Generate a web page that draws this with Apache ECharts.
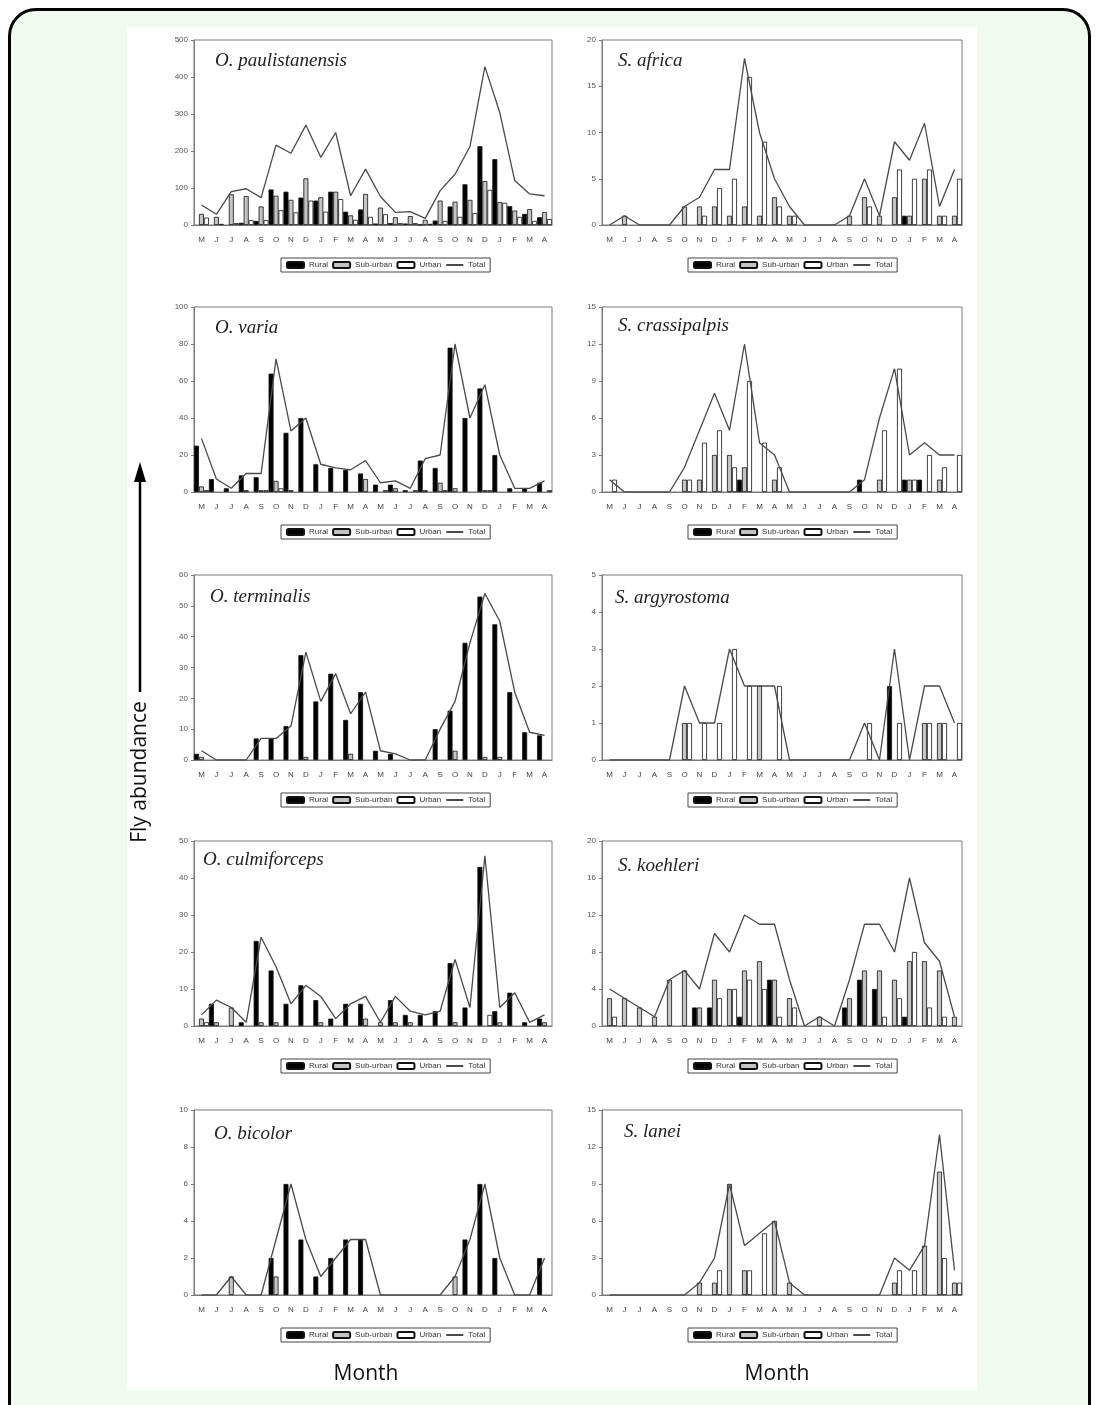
<!DOCTYPE html>
<html><head><meta charset="utf-8">
<script src="https://cdn.jsdelivr.net/npm/echarts@6/dist/echarts.min.js"></script>
<style>
html,body{margin:0;padding:0;background:#fff;width:1098px;height:1405px;overflow:hidden;}
#frame{position:absolute;left:8px;top:8px;width:1077px;height:1440px;border:3px solid #000;border-radius:28px;background:#f0fbef;}
#panel{position:absolute;left:127px;top:27px;width:850px;height:1363px;background:#fff;}
#chart{position:absolute;left:0;top:0;width:1098px;height:1405px;}
</style></head><body>
<div id="frame"></div><div id="panel"></div><div id="chart"></div>
<script>
const months = ['M','J','J','A','S','O','N','D','J','F','M','A','M','J','J','A','S','O','N','D','J','F','M','A'];
const seriesNames = ['Rural','Sub-urban','Urban','Total'];

// O. paulistanensis
const paulRural = [0,0,0,6,11,96,90,74,66,90,36,42,4,5,4,1,12,50,110,213,178,51,30,21];
const paulSub   = [30,22,83,78,50,79,68,126,75,90,26,84,47,21,24,14,66,63,68,119,62,39,43,35];
const paulUrban = [20,3,5,13,13,40,34,66,36,70,14,22,29,5,5,3,11,22,32,95,60,22,11,16];
const paulTotal = [54,29,90,98,74,216,194,270,183,250,79,151,77,34,36,18,93,137,212,428,304,120,84,79];
// O. varia
const variaRural = [25,7,2,9,8,64,32,40,15,13,12,10,4,4,1,17,13,78,40,56,20,2,2,5];
const variaSub   = [3,0,0,1,1,6,1,0,0,0,0,7,0,2,0,1,5,2,0,1,0,0,0,0];
const variaUrban = [1,0,0,0,1,2,0,0,0,0,0,0,1,0,1,0,1,0,0,1,0,0,0,1];
const variaTotal = [29,7,2,10,10,72,33,40,15,13,12,17,5,6,2,18,20,80,40,58,20,2,2,6];
// O. terminalis
const termRural = [2,0,0,0,7,7,11,34,19,28,13,22,3,2,0,0,10,16,38,53,44,22,9,8];
const termSub   = [1,0,0,0,0,0,0,1,0,0,2,0,0,0,0,0,0,3,0,1,1,0,0,0];
const termUrban = [0,0,0,0,0,0,0,0,0,0,0,0,0,0,0,0,0,0,0,0,0,0,0,0];
const termTotal = [3,0,0,0,7,7,11,35,19,28,15,22,3,2,0,0,10,19,38,54,45,22,9,8];
// O. culmiforceps
const culmRural = [0,6,0,1,23,15,6,11,7,2,6,6,0,7,3,3,4,17,5,43,4,9,1,2];
const culmSub   = [2,1,5,0,1,1,0,0,1,0,0,2,1,1,1,0,0,1,0,0,1,0,0,1];
const culmUrban = [1,0,0,0,0,0,0,0,0,0,0,0,0,0,0,0,0,0,0,3,0,0,0,0];
const culmTotal = [3,7,5,1,24,16,6,11,8,2,6,8,1,8,4,3,4,18,5,46,5,9,1,3];
// O. bicolor
const bicRural = [0,0,0,0,0,2,6,3,1,2,3,3,0,0,0,0,0,0,3,6,2,0,0,2];
const bicSub   = [0,0,1,0,0,1,0,0,0,0,0,0,0,0,0,0,0,1,0,0,0,0,0,0];
const bicUrban = [0,0,0,0,0,0,0,0,0,0,0,0,0,0,0,0,0,0,0,0,0,0,0,0];
const bicTotal = [0,0,1,0,0,3,6,3,1,2,3,3,0,0,0,0,0,1,3,6,2,0,0,2];
// S. africa
const afrRural = [0,0,0,0,0,0,0,0,0,0,0,0,0,0,0,0,0,0,0,0,1,0,0,0];
const afrSub   = [0,1,0,0,0,2,2,2,1,2,1,3,1,0,0,0,1,3,1,3,1,5,1,1];
const afrUrban = [0,0,0,0,0,0,1,4,5,16,9,2,1,0,0,0,0,2,0,6,5,6,1,5];
const afrTotal = [0,1,0,0,0,2,3,6,6,18,10,5,2,0,0,0,1,5,1,9,7,11,2,6];
// S. crassipalpis
const crasRural = [0,0,0,0,0,0,0,0,0,1,0,0,0,0,0,0,0,1,0,0,1,1,0,0];
const crasSub   = [0,0,0,0,0,1,1,3,3,2,0,1,0,0,0,0,0,0,1,0,1,0,1,0];
const crasUrban = [1,0,0,0,0,1,4,5,2,9,4,2,0,0,0,0,0,0,5,10,1,3,2,3];
const crasTotal = [1,0,0,0,0,2,5,8,5,12,4,3,0,0,0,0,0,1,6,10,3,4,3,3];
// S. argyrostoma
const argRural = [0,0,0,0,0,0,0,0,0,0,0,0,0,0,0,0,0,0,0,2,0,0,0,0];
const argSub   = [0,0,0,0,0,1,0,0,0,0,2,0,0,0,0,0,0,0,0,0,0,1,1,0];
const argUrban = [0,0,0,0,0,1,1,1,3,2,0,2,0,0,0,0,0,1,0,1,0,1,1,1];
const argTotal = [0,0,0,0,0,2,1,1,3,2,2,2,0,0,0,0,0,1,0,3,0,2,2,1];
// S. koehleri
const koeRural = [0,0,0,0,0,0,2,2,0,1,0,5,0,0,0,0,2,5,4,0,1,0,0,0];
const koeSub   = [3,3,2,1,5,6,2,5,4,6,7,5,3,0,1,0,3,6,6,5,7,7,6,1];
const koeUrban = [1,0,0,0,0,0,0,3,4,5,4,1,2,0,0,0,0,0,1,3,8,2,1,0];
const koeTotal = [4,3,2,1,5,6,4,10,8,12,11,11,5,0,1,0,5,11,11,8,16,9,7,1];
// S. lanei
const lanRural = [0,0,0,0,0,0,0,0,0,0,0,0,0,0,0,0,0,0,0,0,0,0,0,0];
const lanSub   = [0,0,0,0,0,0,1,1,9,2,0,6,1,0,0,0,0,0,0,1,0,4,10,1];
const lanUrban = [0,0,0,0,0,0,0,2,0,2,5,0,0,0,0,0,0,0,0,2,2,0,3,1];
const lanTotal = [0,0,0,0,0,0,1,3,9,4,5,6,1,0,0,0,0,0,0,3,2,4,13,2];

// y-axis maxima and tick steps
const yMax  = [500,100,60,50,10, 20,15,5,20,15];
const yStep = [100,20,10,10,2, 5,3,1,4,3];
const speciesNames = ['O. paulistanensis','O. varia','O. terminalis','O. culmiforceps','O. bicolor',
                      'S. africa','S. crassipalpis','S. argyrostoma','S. koehleri','S. lanei'];
const panelData = [
  [paulRural,paulSub,paulUrban,paulTotal],
  [variaRural,variaSub,variaUrban,variaTotal],
  [termRural,termSub,termUrban,termTotal],
  [culmRural,culmSub,culmUrban,culmTotal],
  [bicRural,bicSub,bicUrban,bicTotal],
  [afrRural,afrSub,afrUrban,afrTotal],
  [crasRural,crasSub,crasUrban,crasTotal],
  [argRural,argSub,argUrban,argTotal],
  [koeRural,koeSub,koeUrban,koeTotal],
  [lanRural,lanSub,lanUrban,lanTotal]
];

// layout
const colLeft = [194, 602];
const colWidth = [358, 360];
const rowTop = [40, 307, 575, 841, 1110];
const plotH = 185;
const titlePos = [[215,51],[215,318],[210,587],[203,850],[214,1124],[618,51],[618,316],[615,588],[618,856],[624,1122]];
const legendLeft = [281, 688];

const barColors = ['#000000','#c4c4c4','#ffffff'];
const grid=[], xAxis=[], yAxis=[], series=[], title=[], legend=[];
const axisGrey = '#7a7a7a';

panelData.forEach((arrs,i)=>{
  const col = i<5?0:1, row = i%5;
  const top = rowTop[row];
  grid.push({left:colLeft[col], top:top, width:colWidth[col], height:plotH, show:true,
    borderColor:axisGrey, borderWidth:1, backgroundColor:'transparent'});
  xAxis.push({type:'category', gridIndex:i, data:months, boundaryGap:true,
    axisLine:{show:true, lineStyle:{color:axisGrey}}, axisTick:{show:false},
    axisLabel:{interval:0, fontSize:8, color:'#444', margin:11, fontFamily:'Liberation Sans'}});
  yAxis.push({type:'value', gridIndex:i, min:0, max:yMax[i], interval:yStep[i],
    splitLine:{show:false},
    axisLine:{show:true, lineStyle:{color:axisGrey}},
    axisTick:{show:true, length:3, lineStyle:{color:axisGrey}},
    axisLabel:{fontSize:8, color:'#555', margin:6, fontFamily:'Liberation Sans'}});
  for(let k=0;k<3;k++){
    series.push({type:'bar', name:seriesNames[k], xAxisIndex:i, yAxisIndex:i,
      data: arrs[k].map(v=> v===0 ? null : v),
      barGap:'0%', barCategoryGap:'0%',
      itemStyle:{color:barColors[k], borderColor:'#111', borderWidth:0.8},
      emphasis:{disabled:true}, silent:true, z:2});
  }
  series.push({type:'line', name:'Total', xAxisIndex:i, yAxisIndex:i, data:arrs[3],
    symbol:'none', showSymbol:false, lineStyle:{color:'#4a4a4a', width:1.3}, itemStyle:{color:'#4a4a4a'},
    silent:true, z:5});
  title.push({text:speciesNames[i], left:titlePos[i][0], top:titlePos[i][1], padding:0,
    textStyle:{fontFamily:'Liberation Serif', fontStyle:'italic', fontWeight:'normal', fontSize:19, color:'#222'}});
  legend.push({data:['Rural','Sub-urban','Urban',{name:'Total', itemStyle:{opacity:0}}],
    left:legendLeft[col], top:top+plotH+33,
    orient:'horizontal', itemWidth:17, itemHeight:6, itemGap:4,
    padding:[3,5], borderColor:'#444', borderWidth:1, selectedMode:false,
    textStyle:{fontSize:8, color:'#333', fontFamily:'Liberation Sans'}});
});

const chart = echarts.init(document.getElementById('chart'), null, {renderer:'canvas'});
chart.setOption({
  animation:false,
  grid, xAxis, yAxis, series, title, legend,
  graphic:[
    {type:'line', shape:{x1:140,y1:692,x2:140,y2:476}, style:{stroke:'#000', lineWidth:2.5}},
    {type:'polygon', shape:{points:[[140,462],[134,482],[146,482]]}, style:{fill:'#000'}},
    {type:'text', x:140, y:772, rotation:Math.PI/2,
      style:{text:'Fly abundance', font:'21px "Open Sans"', fill:'#111', textAlign:'center', textVerticalAlign:'middle', align:'center', verticalAlign:'middle'}},
    {type:'text', x:366, y:1374,
      style:{text:'Month', font:'21px "Open Sans"', fill:'#111', textAlign:'center', textVerticalAlign:'middle', align:'center', verticalAlign:'middle'}},
    {type:'text', x:777, y:1374,
      style:{text:'Month', font:'21px "Open Sans"', fill:'#111', textAlign:'center', textVerticalAlign:'middle', align:'center', verticalAlign:'middle'}}
  ]
});
</script>
</body></html>
